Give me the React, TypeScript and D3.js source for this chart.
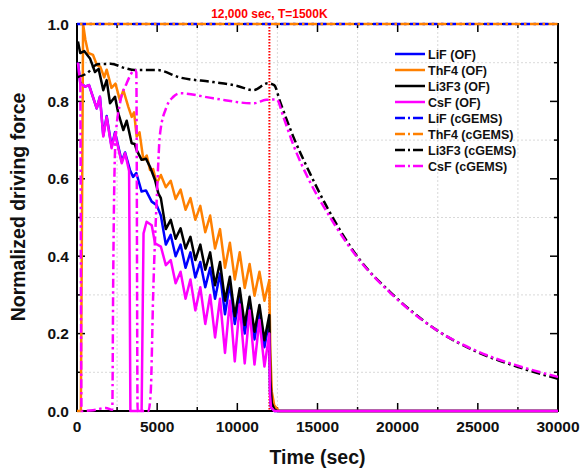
import * as d3 from 'd3';
import React from 'react';

// time (sec), normalized driving force
const lifOF: [number, number][] = [
  [60, 0.9], [200, 0.85], [500, 0.838], [750, 0.842], [1230, 0.782], [1430, 0.812], [1640, 0.712],
  [1850, 0.762], [2160, 0.683], [2370, 0.72], [2790, 0.645], [3000, 0.668], [3300, 0.623], [3500, 0.605],
  [3700, 0.615], [4030, 0.567], [4300, 0.57], [4660, 0.541], [4970, 0.532], [5230, 0.505], [5540, 0.43],
  [5845, 0.455], [6150, 0.4], [6460, 0.43], [6770, 0.37], [7075, 0.41], [7380, 0.345], [7690, 0.385],
  [8000, 0.32], [8305, 0.37], [8610, 0.29], [8920, 0.355], [9230, 0.25], [9535, 0.33], [9840, 0.225],
  [10150, 0.3], [10460, 0.2], [10765, 0.28], [11070, 0.185], [11380, 0.26], [11690, 0.165], [11995, 0.235],
  [12040, 0.05], [12100, 0.01], [12300, 0], [30000, 0],
];
const thf4OF: [number, number][] = [
  [0, 0], [240, 0], [380, 1.0], [520, 0.96], [700, 0.925], [1000, 0.92], [1250, 0.893], [1450, 0.89],
  [1700, 0.862], [1850, 0.882], [2150, 0.835], [2400, 0.846], [2680, 0.802], [2890, 0.829], [3200, 0.786],
  [3410, 0.76], [3560, 0.772], [3720, 0.709], [3900, 0.72], [4140, 0.649], [4350, 0.66], [4553, 0.623],
  [4750, 0.625], [4970, 0.588], [5230, 0.61], [5540, 0.578], [5845, 0.595], [6150, 0.548], [6460, 0.572],
  [6770, 0.52], [7075, 0.55], [7380, 0.494], [7690, 0.53], [8000, 0.462], [8305, 0.505], [8610, 0.42],
  [8920, 0.47], [9230, 0.37], [9535, 0.435], [9840, 0.34], [10150, 0.41], [10460, 0.318], [10765, 0.38],
  [11070, 0.298], [11380, 0.36], [11690, 0.285], [11995, 0.338], [12060, 0.15], [12150, 0.05],
  [12300, 0.015], [12600, 0], [30000, 0],
];
const li3f3OF: [number, number][] = [
  [60, 0.955], [200, 0.925], [450, 0.93], [810, 0.911], [1120, 0.876], [1350, 0.884], [1640, 0.829],
  [1850, 0.855], [2060, 0.795], [2370, 0.812], [2578, 0.769], [2890, 0.726], [3100, 0.75], [3410, 0.692],
  [3600, 0.69], [3720, 0.674], [4030, 0.649], [4300, 0.652], [4553, 0.631], [4865, 0.597], [5076, 0.562],
  [5230, 0.55], [5540, 0.47], [5845, 0.494], [6150, 0.445], [6460, 0.472], [6770, 0.42], [7075, 0.45],
  [7380, 0.39], [7690, 0.43], [8000, 0.365], [8305, 0.41], [8610, 0.325], [8920, 0.385], [9230, 0.285],
  [9535, 0.347], [9840, 0.245], [10150, 0.317], [10460, 0.222], [10765, 0.295], [11070, 0.205],
  [11380, 0.274], [11690, 0.183], [11995, 0.248], [12060, 0.08], [12150, 0.02], [12300, 0.005],
  [12500, 0], [30000, 0],
];
const csfOF: [number, number][] = [
  [60, 0.9], [200, 0.847], [500, 0.838], [750, 0.842], [1230, 0.782], [1430, 0.812], [1640, 0.709],
  [1850, 0.76], [2160, 0.679], [2370, 0.717], [2790, 0.64], [3000, 0.666], [3250, 0.62], [3330, 0],
  [4030, 0], [4150, 0.459], [4340, 0.489], [4660, 0.48], [4870, 0.433], [5230, 0.425], [5540, 0.377],
  [5845, 0.39], [6150, 0.33], [6460, 0.36], [6770, 0.29], [7075, 0.34], [7380, 0.26], [7690, 0.32],
  [8000, 0.225], [8305, 0.3], [8610, 0.19], [8920, 0.29], [9230, 0.15], [9535, 0.285], [9840, 0.128],
  [10150, 0.275], [10460, 0.123], [10765, 0.26], [11070, 0.12], [11380, 0.235], [11690, 0.115],
  [11995, 0.2], [12040, 0.04], [12100, 0.01], [12300, 0], [30000, 0],
];
const lifCG: [number, number][] = [[0, 1], [30000, 1]];
const thf4CG: [number, number][] = [[0, 1], [30000, 1]];
const li3f3CG: [number, number][] = [
  [0, 0.862], [600, 0.872], [1300, 0.896], [2100, 0.897], [3000, 0.886], [3600, 0.881], [5000, 0.881],
  [6400, 0.862], [8500, 0.85], [10000, 0.84], [11000, 0.829], [11900, 0.847], [12300, 0.842],
  [12660, 0.8], [13490, 0.709], [14530, 0.614], [15575, 0.528], [17650, 0.39], [19520, 0.308],
  [22435, 0.209], [24930, 0.153], [27420, 0.115], [30000, 0.083],
];
const csfCG: [number, number][] = [
  [0, 0.866], [200, 0.862], [280, 0], [1000, 0.002], [1800, 0.008], [2200, 0.003], [2260, 0.35],
  [2400, 0.7], [2680, 0.795], [3100, 0.847], [3620, 0.881], [3700, 0.875], [3780, 0], [4450, 0],
  [4600, 0.05], [4750, 0.3], [4970, 0.545], [5180, 0.717], [5590, 0.786], [6010, 0.812], [6424, 0.821],
  [8500, 0.808], [11000, 0.795], [11800, 0.804], [12450, 0.805], [12870, 0.76], [13490, 0.688],
  [14530, 0.592], [15575, 0.515], [17650, 0.388], [19520, 0.306], [22435, 0.209], [24930, 0.155],
  [27420, 0.118], [30000, 0.088],
];

const seriesNames = [
  'LiF (OF)', 'ThF4 (OF)', 'Li3F3 (OF)', 'CsF (OF)',
  'LiF (cGEMS)', 'ThF4 (cGEMS)', 'Li3F3 (cGEMS)', 'CsF (cGEMS)',
];
const seriesData = [lifOF, thf4OF, li3f3OF, csfOF, lifCG, thf4CG, li3f3CG, csfCG];
const colors = ['#0000ff', '#ff8000', '#000000', '#ff00ff', '#0000ff', '#ff8000', '#000000', '#ff00ff'];

const xTicks = [0, 5000, 10000, 15000, 20000, 25000, 30000];
const yTicks = [0, 0.2, 0.4, 0.6, 0.8, 1.0];
const markTime = 12000;

const W = 582;
const H = 470;
const font = 'Arial, "Liberation Sans", Helvetica, sans-serif';
const dashDot = '9,3.5,2.5,3.5';
// shift patterns so overlapping dash-dot lines interleave like the original
const dashOffsets = [0, 0, 0, 0, 0, 9.5, 0, 9];

export default function App() {
  const x = d3.scaleLinear().domain([0, 30000]).range([77, 558]);
  const y = d3.scaleLinear().domain([0, 1]).range([411, 24]);

  const line = d3
    .line<[number, number]>()
    .x((d) => x(d[0]))
    .y((d) => y(d[1]));
  const smooth = d3
    .line<[number, number]>()
    .x((d) => x(d[0]))
    .y((d) => y(d[1]))
    .curve(d3.curveMonotoneX);

  const xMinor = d3.range(0, 30001, 2500);
  const yMinor = d3.range(0, 11).map((i) => i / 10);
  const xGrid = xMinor.filter((v) => v % 5000 !== 0);
  const yGrid = yMinor.filter((_, i) => i % 2 === 1);

  const [x0, x1] = x.range();
  const [y0, y1] = y.range();

  return (
    <div style={{ position: 'absolute', left: 0, top: 0 }}>
      <svg width={W} height={H} style={{ display: 'block', background: '#fff' }}>
        {/* grid */}
        {xGrid.map((v) => (
          <line key={'gx' + v} x1={x(v)} x2={x(v)} y1={y1} y2={y0}
            stroke="#cfcfcf" strokeWidth={0.8} strokeDasharray="2,2" />
        ))}
        {yGrid.map((v) => (
          <line key={'gy' + v} x1={x0} x2={x1} y1={y(v)} y2={y(v)}
            stroke="#cfcfcf" strokeWidth={0.8} strokeDasharray="2,2" />
        ))}

        {/* frame */}
        <rect x={x0} y={y1} width={x1 - x0} height={y0 - y1} fill="none" stroke="#000" strokeWidth={2} />

        {/* ticks */}
        {xMinor.map((v) => {
          const len = v % 5000 === 0 ? 8 : 4;
          return (
            <g key={'tx' + v} stroke="#000" strokeWidth={1.5}>
              <line x1={x(v)} x2={x(v)} y1={y0} y2={y0 - len} />
              <line x1={x(v)} x2={x(v)} y1={y1} y2={y1 + len} />
            </g>
          );
        })}
        {yMinor.map((v, i) => {
          const len = i % 2 === 0 ? 8 : 4;
          return (
            <g key={'ty' + i} stroke="#000" strokeWidth={1.5}>
              <line x1={x0} x2={x0 + len} y1={y(v)} y2={y(v)} />
              <line x1={x1} x2={x1 - len} y1={y(v)} y2={y(v)} />
            </g>
          );
        })}

        {/* tick labels */}
        {xTicks.map((v) => (
          <text key={'lx' + v} x={x(v)} y={y0 + 21} textAnchor="middle"
            fontFamily={font} fontWeight="bold" fontSize={15.5} fill="#111">{v}</text>
        ))}
        {yTicks.map((v) => (
          <text key={'ly' + v} x={x0 - 8} y={y(v) + 5.5} textAnchor="end"
            fontFamily={font} fontWeight="bold" fontSize={15.5} fill="#111">{v.toFixed(1)}</text>
        ))}

        {/* axis titles */}
        <text x={(x0 + x1) / 2} y={464} textAnchor="middle" fontFamily={font}
          fontWeight="bold" fontSize={19.5} fill="#111">Time (sec)</text>
        <text transform={`translate(25,${207}) rotate(-90)`} textAnchor="middle" fontFamily={font}
          fontWeight="bold" fontSize={19.5} fill="#111">Normalized driving force</text>

        {/* 12000 s marker */}
        <line x1={x(markTime)} x2={x(markTime)} y1={y1} y2={y0} stroke="#ff0000"
          strokeWidth={2} strokeDasharray="1.5,1.5" />
        <text x={x(markTime)} y={18} textAnchor="middle" fontFamily={font} fontWeight="bold"
          fontSize={12} fill="#ff0000">12,000 sec, T=1500K</text>

        {/* series */}
        {seriesData.map((d, i) => (
          <path key={'s' + i} d={(i < 4 ? line(d) : smooth(d)) || ''} fill="none" stroke={colors[i]}
            strokeWidth={2.5} strokeLinejoin="round"
            strokeDasharray={i < 4 ? undefined : dashDot} strokeDashoffset={dashOffsets[i]} />
        ))}

        {/* legend */}
        {seriesNames.map((name, i) => {
          const ly = 54 + i * 16;
          return (
            <g key={'lg' + i}>
              <line x1={395} x2={425} y1={ly} y2={ly} stroke={colors[i]} strokeWidth={2.5}
                strokeDasharray={i < 4 ? undefined : '10,3,2,3'} />
              <text x={428} y={ly + 4.5} fontFamily={font} fontWeight="bold" fontSize={12.5}
                fill="#111">{name}</text>
            </g>
          );
        })}
      </svg>
    </div>
  );
}
